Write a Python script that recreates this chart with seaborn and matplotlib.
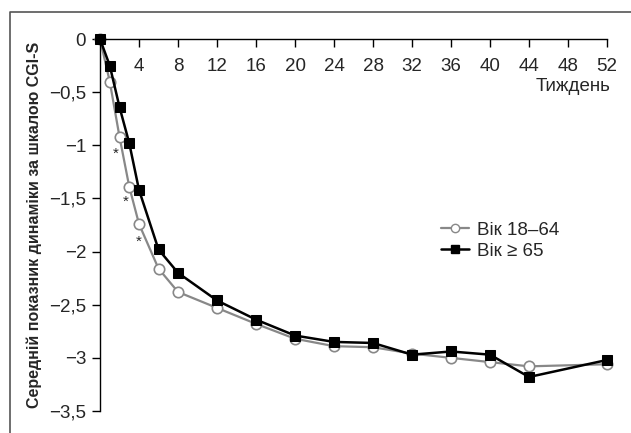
import matplotlib
matplotlib.use("Agg")
import matplotlib.pyplot as plt
import seaborn as sns
import pandas as pd
from matplotlib.lines import Line2D

sns.set_style("white")
plt.rcParams['font.family'] = ['Liberation Sans', 'DejaVu Sans']
plt.rcParams['axes.unicode_minus'] = True

# data
weeks = [0, 1, 2, 3, 4, 6, 8, 12, 16, 20, 24, 28, 32, 36, 40, 44, 52]
age_18_64 = [0, -0.40, -0.92, -1.39, -1.74, -2.16, -2.38, -2.53, -2.68, -2.82,
             -2.89, -2.90, -2.96, -3.00, -3.04, -3.08, -3.06]
age_65 = [0, -0.25, -0.64, -0.98, -1.42, -1.98, -2.20, -2.46, -2.64, -2.79,
          -2.85, -2.86, -2.97, -2.94, -2.97, -3.18, -3.02]
star_x = [1.64, 2.67, 3.93]
star_y = [-1.08, -1.53, -1.91]
xticks = list(range(4, 53, 4))
yticks = [0, -0.5, -1, -1.5, -2, -2.5, -3, -3.5]
labels = ['Вік 18–64', 'Вік ≥ 65']

df = pd.DataFrame({'week': weeks, 'young': age_18_64, 'old': age_65})

fig = plt.figure(figsize=(6.31, 4.33), dpi=100)
ax = fig.add_axes([100/631, 1 - 411/433, 507/631, 372/433])

sns.lineplot(data=df, x='week', y='young', ax=ax, color='#888888', lw=1.6,
             marker='o', markersize=7.5, markerfacecolor='white',
             markeredgecolor='#888888', markeredgewidth=1.2, clip_on=False)
sns.lineplot(data=df, x='week', y='old', ax=ax, color='black', lw=1.8,
             marker='s', markersize=7, markerfacecolor='black',
             markeredgecolor='black', clip_on=False)

for sx, sy in zip(star_x, star_y):
    ax.text(sx, sy, '*', ha='center', va='center', fontsize=11)

ax.set_xlim(0, 52)
ax.set_ylim(-3.5, 0)
ax.spines['top'].set_visible(False)
ax.spines['right'].set_visible(False)
ax.spines['bottom'].set_position(('data', 0))
for s in ['left', 'bottom']:
    ax.spines[s].set_color('black')
    ax.spines[s].set_linewidth(1.0)

ax.set_xticks(xticks)
ax.set_xticklabels([str(t) for t in xticks])
ax.set_yticks(yticks)
ax.set_yticklabels([('−' + f'{abs(v):g}'.replace('.', ',')) if v < 0 else '0' for v in yticks])
ax.tick_params(axis='x', direction='out', length=6, width=1, pad=8, labelsize=13.5, color='black')
ax.tick_params(axis='y', direction='out', length=6, width=1, pad=4, labelsize=13.5, color='black')
ax.tick_params(left=True, bottom=True)

ax.set_xlabel('')
ax.set_ylabel('Середній показник динаміки за шкалою CGI-S', fontsize=11.5,
              fontweight='bold', labelpad=5)
ax.text(52.4, -0.37, 'Тиждень', ha='right', va='top', fontsize=13.5)

handles = [Line2D([], [], color='#888888', lw=1.6, marker='o', markersize=6,
                  markerfacecolor='white', markeredgecolor='#888888'),
           Line2D([], [], color='black', lw=1.8, marker='s', markersize=5.5,
                  markerfacecolor='black')]
ax.legend(handles, labels, loc='upper left', bbox_to_anchor=(35.0/52, 1 - 1.72/3.5),
          frameon=False, fontsize=13.5, handlelength=1.5, handletextpad=0.4,
          labelspacing=0.2, borderaxespad=0, borderpad=0)

# outer frame (cropped at the right and bottom)
fig.add_artist(Line2D([10/631, 10/631, 1.0], [0.0, 1 - 12/433, 1 - 12/433],
                      transform=fig.transFigure, color='#555555', lw=1.2))

fig.savefig('out.png', dpi=100)
